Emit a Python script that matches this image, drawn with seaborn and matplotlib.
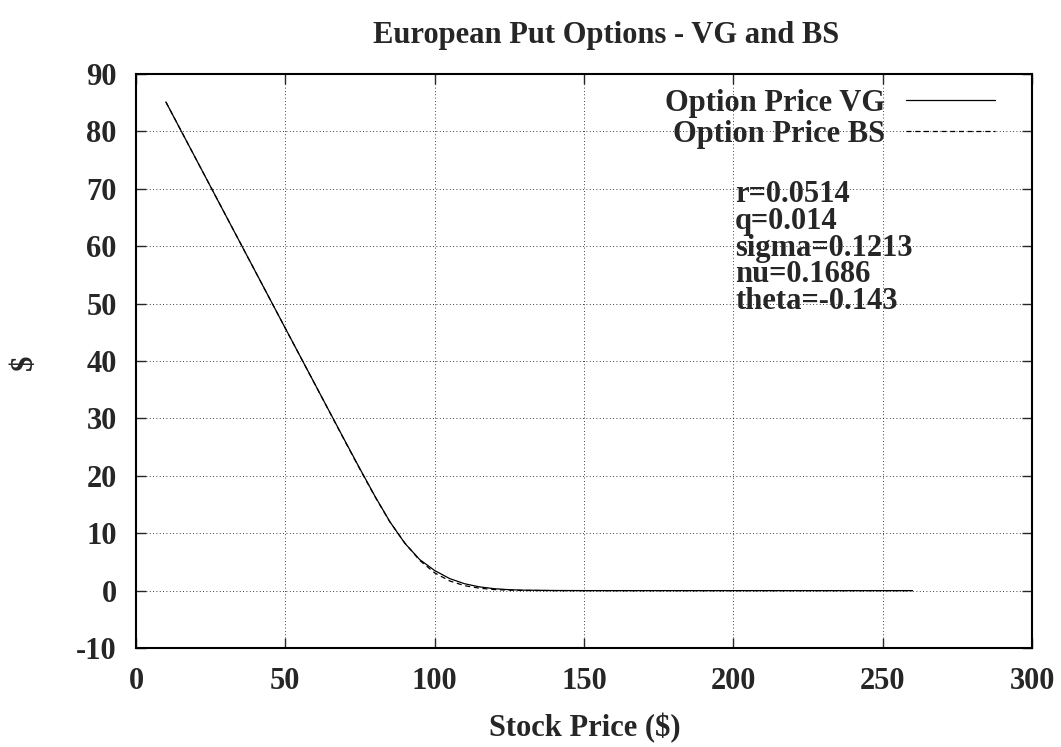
import matplotlib
matplotlib.use('Agg')
import matplotlib.pyplot as plt
import seaborn as sns
import pandas as pd

# preco da acao e precos das puts
stock_price = [10, 20, 30, 40, 50, 60, 65, 70, 75, 80, 85, 90, 95, 100, 105,
               110, 115, 120, 125, 130, 140, 150, 160, 200, 260]
price_vg = [85.13, 75.27, 65.41, 55.55, 45.70, 35.87, 30.96, 26.05, 21.20, 16.45,
            12.00, 8.25, 5.40, 3.50, 2.10, 1.20, 0.65, 0.33, 0.16, 0.08,
            0.02, 0.005, 0.0, 0.0, 0.0]
price_bs = [85.13, 75.27, 65.41, 55.55, 45.69, 35.85, 30.92, 25.97, 21.11, 16.38,
            11.97, 8.30, 5.26, 3.09, 1.69, 0.86, 0.42, 0.18, 0.08, 0.03,
            0.005, 0.0, 0.0, 0.0, 0.0]
params = ['r=0.0514', 'q=0.014', 'sigma=0.1213', 'nu=0.1686', 'theta=-0.143']

sns.set_style("ticks")
plt.rcParams['font.family'] = ['Liberation Serif', 'DejaVu Serif']
plt.rcParams['font.weight'] = 'bold'
plt.rcParams['axes.unicode_minus'] = False
fs = 22

df = pd.DataFrame({'S': stock_price, 'VG': price_vg, 'BS': price_bs})

fig = plt.figure(figsize=(10.61, 7.47), dpi=100)
ax = fig.add_axes([0.1282, 0.1325, 0.8445, 0.7684])

sns.lineplot(data=df, x='S', y='VG', ax=ax, color='black', lw=0.9,
             label='Option Price VG', estimator=None, sort=False)
sns.lineplot(data=df, x='S', y='BS', ax=ax, color='black', lw=0.9,
             linestyle=(0, (4, 3)), label='Option Price BS', estimator=None, sort=False)

ax.set_xlim(0, 300)
ax.set_ylim(-10, 90)
ax.set_xticks(range(0, 301, 50))
ax.set_yticks(range(-10, 91, 10))
ax.grid(True, color='black', lw=0.6, linestyle=(0, (1, 3)))
for s in ax.spines.values():
    s.set_linewidth(1.5)
    s.set_color('black')
ax.tick_params(direction='in', length=7, width=1, top=True, right=True,
               labelsize=fs)
ax.tick_params(axis='x', pad=14)
ax.tick_params(axis='y', pad=14)
for lab in ax.get_xticklabels() + ax.get_yticklabels():
    lab.set_fontweight('bold')

ax.set_xlabel('')
ax.set_ylabel('')
fig.text(606 / 1061, 1 - 35 / 747, 'European Put Options - VG and BS',
         ha='center', va='center', fontsize=fs, fontweight='bold')
fig.text(585 / 1061, 1 - 728 / 747, 'Stock Price ($)',
         ha='center', va='center', fontsize=fs, fontweight='bold')
fig.text(24 / 1061, 1 - 362 / 747, '$', rotation=90,
         ha='center', va='center', fontsize=fs, fontweight='bold')

leg = ax.legend(loc='upper right', bbox_to_anchor=(995 / 1061, 1 - 89 / 747),
                bbox_transform=fig.transFigure, frameon=False, markerfirst=False,
                borderaxespad=0, borderpad=0, handlelength=2.9, handletextpad=0.7,
                labelspacing=0.05, prop={'size': fs, 'weight': 'bold'})

fig.text(735 / 1061, 1 - 180 / 747, '\n'.join(params), ha='left', va='top',
         fontsize=fs, fontweight='bold', linespacing=0.9)

fig.savefig('out.png', dpi=100)
